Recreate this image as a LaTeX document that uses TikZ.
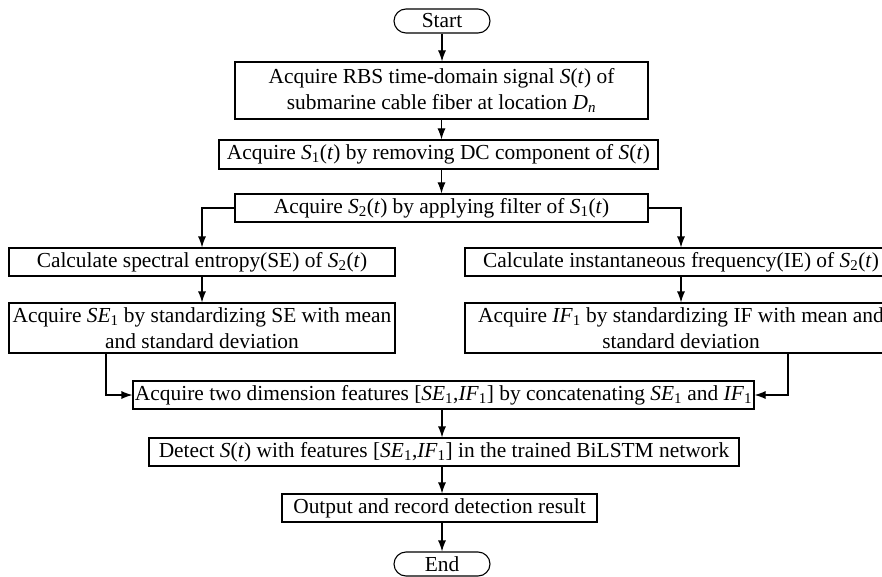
\documentclass[tikz,border=0pt]{standalone}
\usepackage{fontspec}
\setmainfont{Liberation Serif}
\usetikzlibrary{arrows.meta}
% signal S_k(t) and a feature with index 1
\newcommand\sig[1]{\textit{S}\textsubscript{#1}(\textit{t})}
\newcommand\feat[1]{\textit{#1}\textsubscript{1}}

\begin{document}
\begin{tikzpicture}[x=1pt,y=-1pt,
  box/.style={draw, line width=1.1pt, inner sep=0pt, align=center,
    font=\fontsize{21.4}{26}\selectfont},
  term/.style={box, rounded corners=12pt, minimum width=96pt, minimum height=24pt},
  arr/.style={line width=1.1pt, -{Latex[length=11pt,width=8pt]}},
]
\useasboundingbox (0,0) rectangle (882,577);
\fill[white] (0,0) rectangle (882,577);

% main column
\node[term] (start) at (442,21) {Start};
\node[box, minimum width=413pt, minimum height=57pt] (b1) at (441.5,90.5)
  {Acquire RBS time-domain signal \textit{S}(\textit{t}) of\\
   submarine cable fiber at location \textit{D}\textsubscript{\textit{n}}};
\node[box, minimum width=439pt, minimum height=29pt] (b2) at (438.5,154.5)
  {Acquire \sig{1} by removing DC component of \textit{S}(\textit{t})};
\node[box, minimum width=413pt, minimum height=28pt] (b3) at (441.5,208)
  {Acquire \sig{2} by applying filter of \sig{1}};

% two branches
\node[box, minimum width=386pt, minimum height=28pt] (b4l) at (202,262)
  {Calculate spectral entropy(SE) of \sig{2}};
\node[box, minimum width=432pt, minimum height=28pt] (b4r) at (681,262)
  {Calculate instantaneous frequency(IE) of \sig{2}};
\node[box, minimum width=386pt, minimum height=50pt] (b5l) at (202,328)
  {Acquire \feat{SE} by standardizing SE with mean\\ and standard deviation};
\node[box, minimum width=432pt, minimum height=50pt] (b5r) at (681,328)
  {Acquire \feat{IF} by standardizing IF with mean and\\ standard deviation};

% merged column
\node[box, minimum width=621pt, minimum height=28pt] (b6) at (443.5,395)
  {Acquire two dimension features [\feat{SE},\feat{IF}] by concatenating \feat{SE} and \feat{IF}};
\node[box, minimum width=590pt, minimum height=28pt] (b7) at (444,452)
  {Detect \textit{S}(\textit{t}) with features [\feat{SE},\feat{IF}] in the trained BiLSTM network};
\node[box, minimum width=315pt, minimum height=28pt] (b8) at (439.5,508)
  {Output and record detection result};
\node[term] (end) at (442,564) {End};

% connectors
\draw[arr] (start.south) -- (start.south |- b1.north);
\draw[arr] (b1.south) -- (b1.south |- b2.north);
\draw[arr] (b1.south |- b2.south) -- (b1.south |- b3.north);
\draw[arr] (b3.west) -| (b4l.north);
\draw[arr] (b3.east) -| (b4r.north);
\draw[arr] (b4l.south) -- (b5l.north);
\draw[arr] (b4r.south) -- (b5r.north);
\draw[arr] ([xshift=-96pt]b5l.south) |- (b6.west);
\draw[arr] ([xshift=107pt]b5r.south) |- (b6.east);
\draw[arr] (b6.south -| start.south) -- (start.south |- b7.north);
\draw[arr] (b7.south -| start.south) -- (start.south |- b8.north);
\draw[arr] (b8.south -| start.south) -- (end.north);
\end{tikzpicture}
\end{document}
